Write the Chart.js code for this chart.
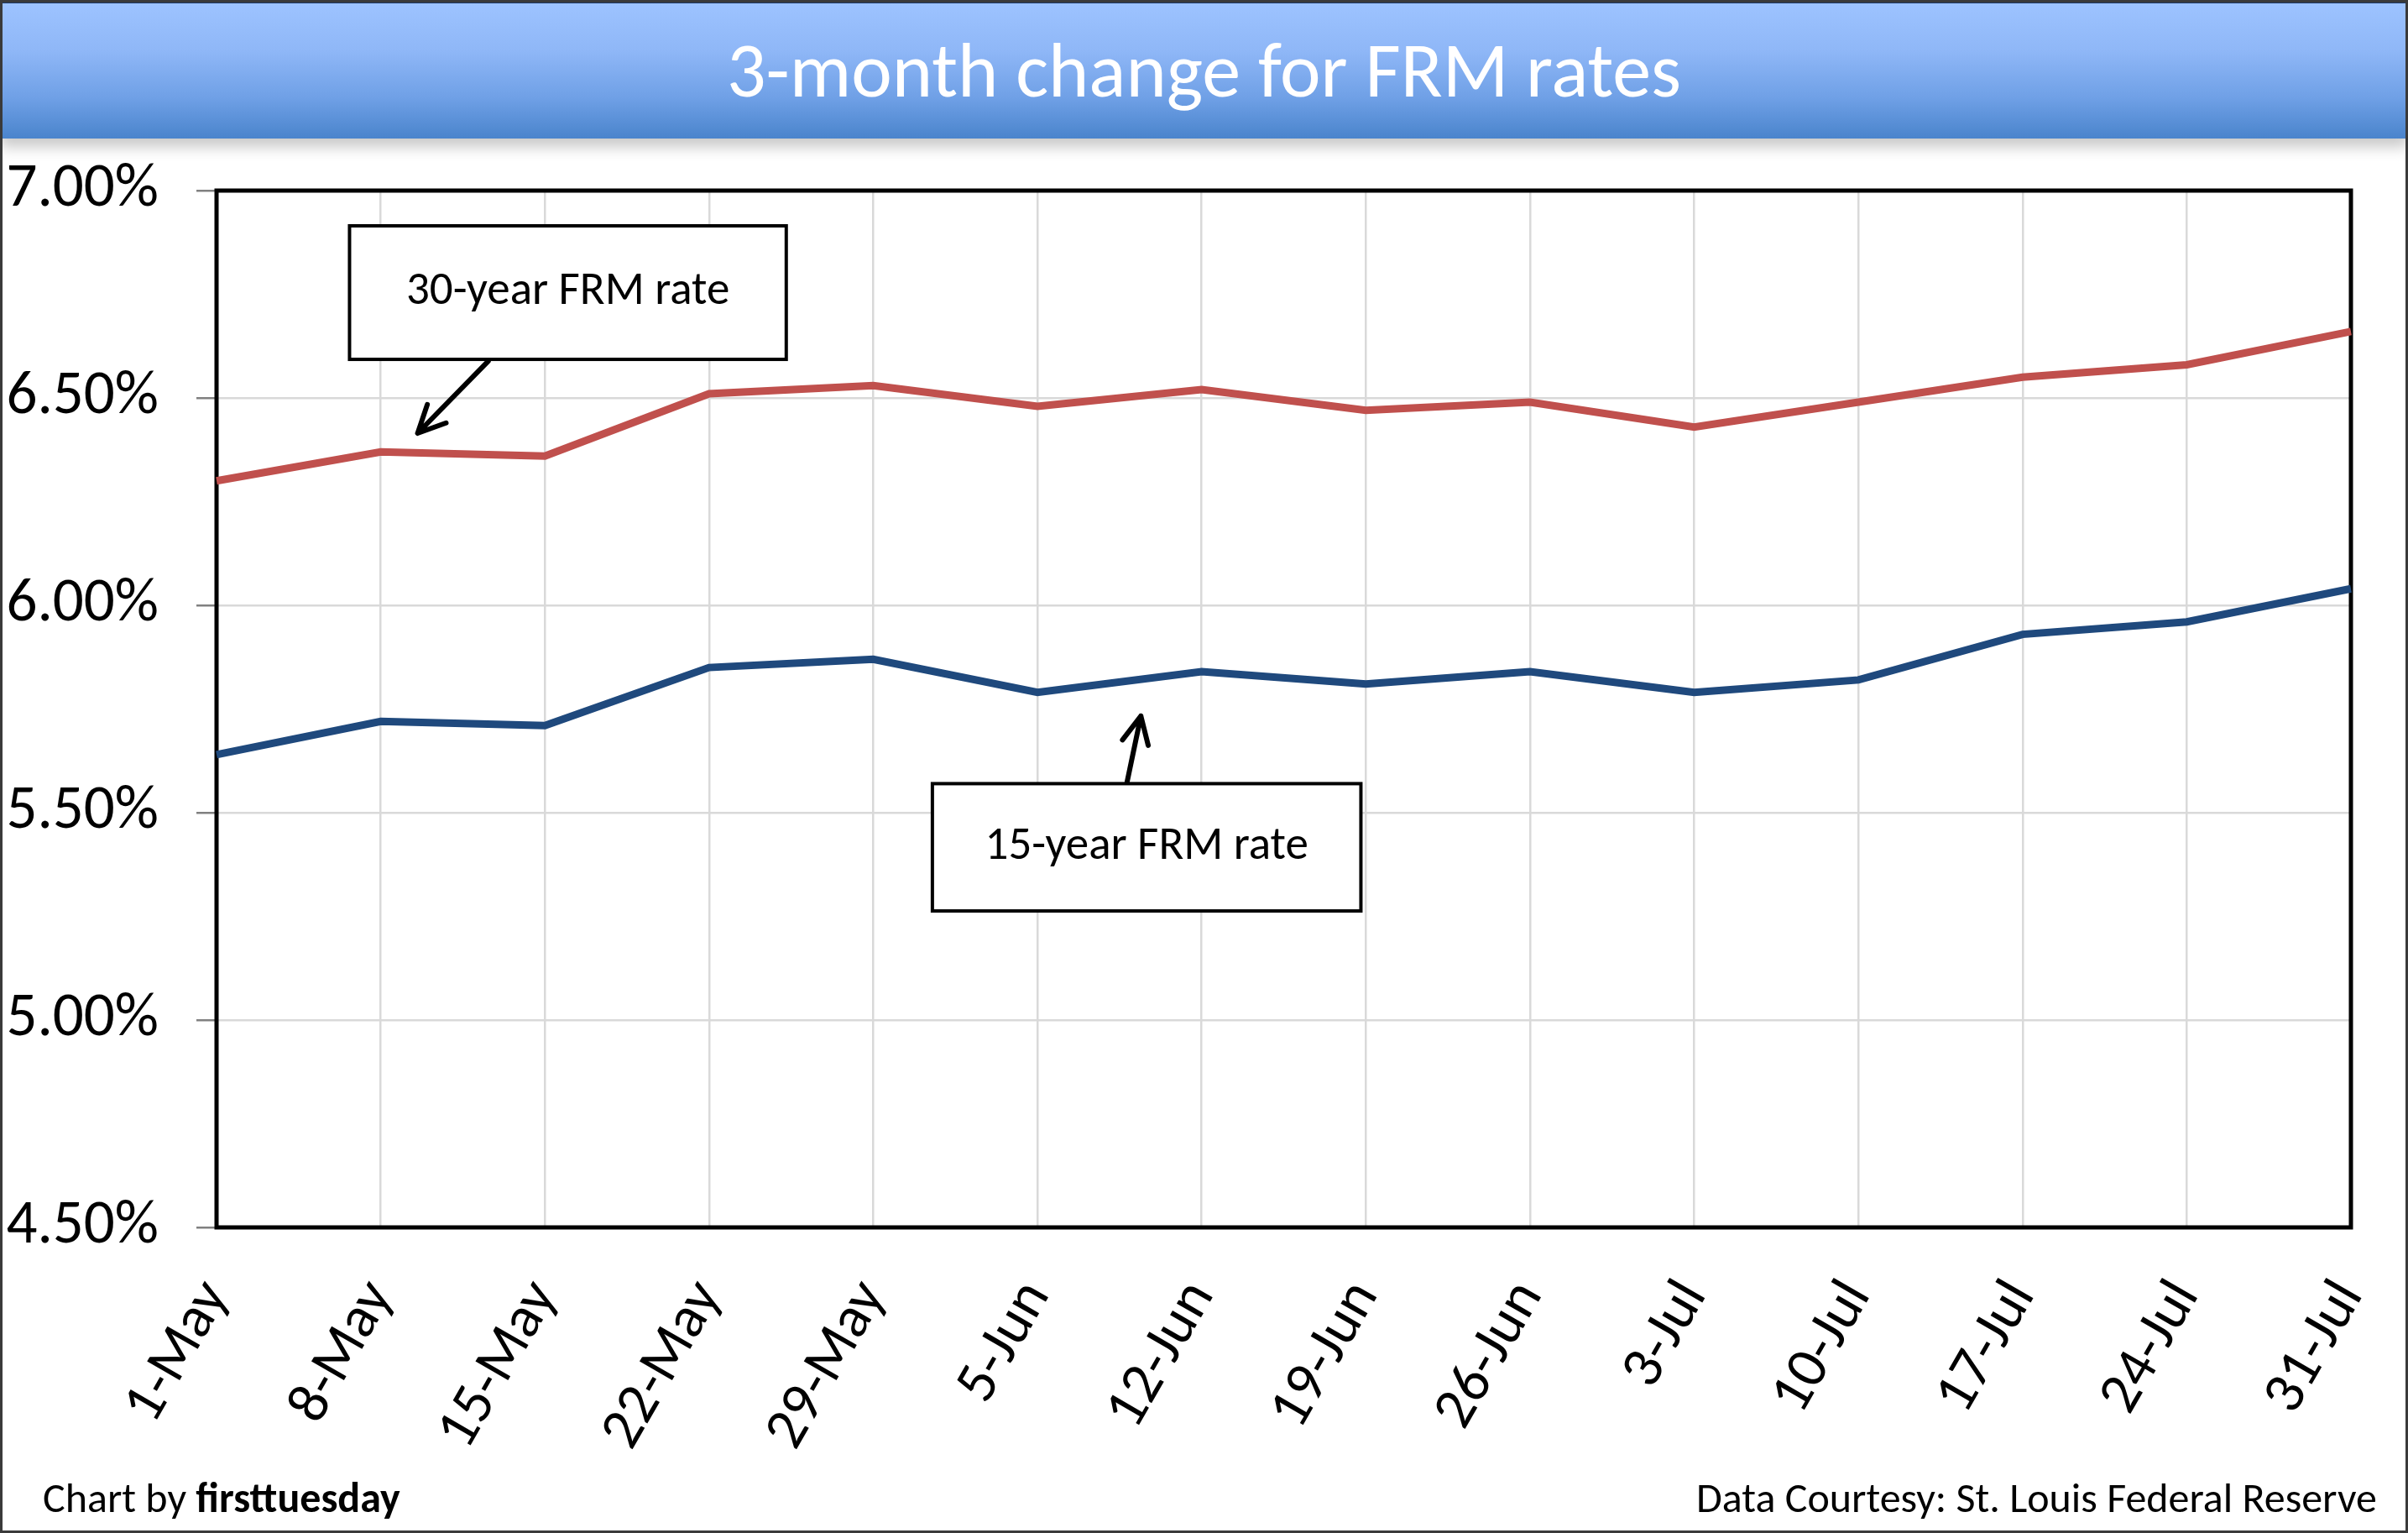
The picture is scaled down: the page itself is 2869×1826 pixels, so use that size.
<!DOCTYPE html>
<html>
<head>
<meta charset="utf-8">
<script src="https://cdn.jsdelivr.net/npm/chart.js@4/dist/chart.umd.min.js"></script>
<style>
  html, body { margin: 0; padding: 0; background: #fff; }
  body { width: 2869px; height: 1826px; position: relative; overflow: hidden;
         font-family: Carlito, Calibri, Lato, sans-serif; }
  #frame { position: absolute; left: 0; top: 0; width: 2869px; height: 1826px;
           box-sizing: border-box; border: 3px solid #3a3a3a; pointer-events: none; z-index: 5; }
  #head { position: absolute; left: 0; top: 0; width: 2869px; height: 165px; z-index: 3;
          border-top: 4px solid #1f3a66; box-sizing: border-box;
          background: linear-gradient(to bottom, #9dc3ff 0%, #8fb7f7 35%, #6fa0e6 70%, #4a84cc 100%);
          box-shadow: 0 10px 16px rgba(0,0,0,0.22);
          color: #fff; font-size: 92px; text-align: center; line-height: 160px; }
  #wrap { position: absolute; left: 0; top: 0; width: 2869px; height: 1826px; }
  .foot { position: absolute; top: 1753px; font-size: 50px; color: #000; z-index: 4; }
  #by { left: 51px; }
  #src { right: 37px; }
</style>
</head>
<body>
<div id="wrap"><canvas id="grafico"></canvas></div>
<div id="head">3-month change for FRM rates</div>
<div class="foot" id="by">Chart by <b>firsttuesday</b></div>
<div class="foot" id="src">Data Courtesy: St. Louis Federal Reserve</div>
<div id="frame"></div>
<script>
// fechas semanales
const fechas = ['1-May', '8-May', '15-May', '22-May', '29-May', '5-Jun', '12-Jun',
                '19-Jun', '26-Jun', '3-Jul', '10-Jul', '17-Jul', '24-Jul', '31-Jul'];
const tasa30 = [6.30, 6.37, 6.36, 6.51, 6.53, 6.48, 6.52, 6.47, 6.49, 6.43, 6.49, 6.55, 6.58, 6.66];
const tasa15 = [5.64, 5.72, 5.71, 5.85, 5.87, 5.79, 5.84, 5.81, 5.84, 5.79, 5.82, 5.93, 5.96, 6.04];
const ejeY = [4.5, 5.0, 5.5, 6.0, 6.5, 7.0];

const fuente = 'Carlito, Calibri, Lato, sans-serif';

// cajas de texto con flecha (en unidades de indice / porcentaje)
const notas = [
  { texto: '30-year FRM rate', x1: 0.81, x2: 3.47, y1: 6.915, y2: 6.593,
    desde: [1.655, 6.589], hasta: [1.225, 6.415] },
  { texto: '15-year FRM rate', x1: 4.36, x2: 6.97, y1: 5.570, y2: 5.263,
    desde: [5.546, 5.574], hasta: [5.63, 5.733] }
];

const marco = {
  id: 'marco',
  beforeDatasetsDraw(chart) {
    const a = chart.chartArea, ctx = chart.ctx;
    ctx.save();
    ctx.strokeStyle = '#000';
    ctx.lineWidth = 5;
    ctx.strokeRect(a.left, a.top, a.right - a.left, a.bottom - a.top);
    ctx.restore();
  }
};

const cajas = {
  id: 'cajas',
  afterDraw(chart) {
    const ctx = chart.ctx, sx = chart.scales.x, sy = chart.scales.y;
    notas.forEach(n => {
      const l = sx.getPixelForValue(n.x1), r = sx.getPixelForValue(n.x2);
      const t = sy.getPixelForValue(n.y1), b = sy.getPixelForValue(n.y2);
      ctx.save();
      ctx.fillStyle = '#fff';
      ctx.fillRect(l, t, r - l, b - t);
      ctx.strokeStyle = '#000';
      ctx.lineWidth = 4;
      ctx.strokeRect(l, t, r - l, b - t);
      ctx.fillStyle = '#000';
      ctx.font = '55px ' + fuente;
      ctx.textAlign = 'center';
      ctx.textBaseline = 'middle';
      ctx.fillText(n.texto, (l + r) / 2, (t + b) / 2);
      // flecha
      const x0 = sx.getPixelForValue(n.desde[0]), y0 = sy.getPixelForValue(n.desde[1]);
      const x1 = sx.getPixelForValue(n.hasta[0]), y1 = sy.getPixelForValue(n.hasta[1]);
      const ang = Math.atan2(y1 - y0, x1 - x0);
      ctx.lineWidth = 6;
      ctx.lineCap = 'round';
      ctx.lineJoin = 'round';
      ctx.beginPath();
      ctx.moveTo(x0, y0);
      ctx.lineTo(x1, y1);
      ctx.moveTo(x1 - 36 * Math.cos(ang - 0.45), y1 - 36 * Math.sin(ang - 0.45));
      ctx.lineTo(x1, y1);
      ctx.lineTo(x1 - 36 * Math.cos(ang + 0.45), y1 - 36 * Math.sin(ang + 0.45));
      ctx.stroke();
      ctx.restore();
    });
  }
};

const grafico = new Chart(document.getElementById('grafico').getContext('2d'), {
  type: 'line',
  data: {
    labels: fechas,
    datasets: [
      { label: '30-year FRM rate', data: tasa30, borderColor: '#c0504d', borderWidth: 9,
        pointRadius: 0, tension: 0, fill: false },
      { label: '15-year FRM rate', data: tasa15, borderColor: '#1f497d', borderWidth: 9,
        pointRadius: 0, tension: 0, fill: false }
    ]
  },
  options: {
    responsive: true,
    maintainAspectRatio: false,
    animation: false,
    layout: { padding: { left: 0, right: 68, top: 227, bottom: 64 } },
    plugins: { legend: { display: false }, tooltip: { enabled: false } },
    scales: {
      x: {
        offset: false,
        grid: { color: '#d9d9d9', lineWidth: 2.5, drawTicks: false },
        border: { display: false },
        ticks: { color: '#000', font: { family: fuente, size: 70 }, maxRotation: 60, minRotation: 60,
                 autoSkip: false, padding: 50 },
        afterFit(s) { s.height = 300; s.paddingLeft = 0; s.paddingRight = 0; }
      },
      y: {
        min: 4.5, max: 7.0,
        afterBuildTicks(s) { s.ticks = ejeY.map(v => ({ value: v })); },
        grid: { color: '#d9d9d9', lineWidth: 2.5, tickLength: 24, tickColor: '#808080' },
        border: { display: false },
        ticks: { color: '#000', font: { family: fuente, size: 73 }, padding: 45,
                 callback: v => v.toFixed(2) + '%' },
        afterFit(s) { s.width = 258; }
      }
    }
  },
  plugins: [marco, cajas]
});
</script>
</body>
</html>
